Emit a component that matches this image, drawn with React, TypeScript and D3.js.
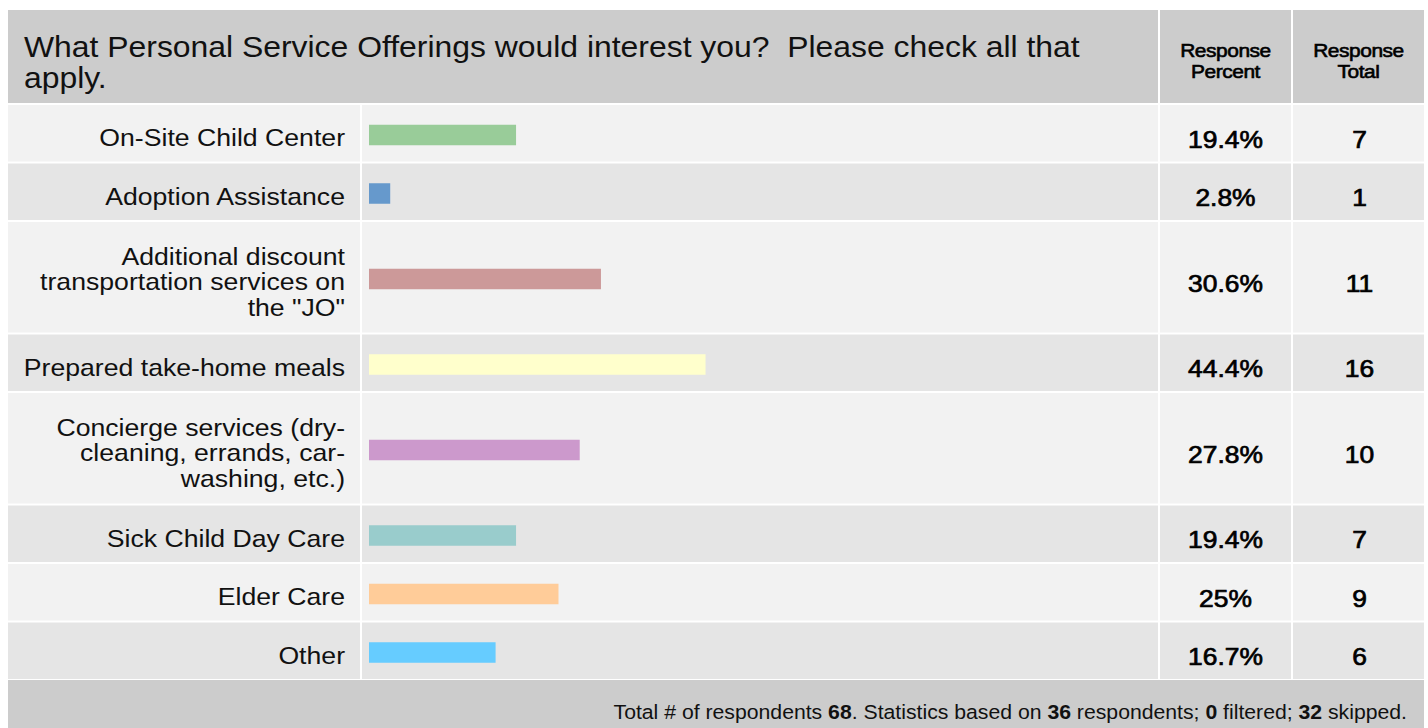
import * as d3 from "d3";
import React from "react";

// survey question + answers
const title = [
  "What Personal Service Offerings would interest you?  Please check all that",
  "apply.",
];
const categories = [
  "On-Site Child Center",
  "Adoption Assistance",
  'Additional discount\ntransportation services on\nthe "JO"',
  "Prepared take-home meals",
  "Concierge services (dry-\ncleaning, errands, car-\nwashing, etc.)",
  "Sick Child Day Care",
  "Elder Care",
  "Other",
];
const percents = [19.4, 2.8, 30.6, 44.4, 27.8, 19.4, 25, 16.7];
const totals = [7, 1, 11, 16, 10, 7, 9, 6];
const percentLabels = ["19.4%", "2.8%", "30.6%", "44.4%", "27.8%", "19.4%", "25%", "16.7%"];
const barColors = ["#99cc99", "#6699cc", "#cc9999", "#ffffcc", "#cc99cc", "#99cccc", "#ffcc99", "#66ccff"];
const footerParts = [
  { t: "Total # of respondents ", b: false },
  { t: "68", b: true },
  { t: ". Statistics based on ", b: false },
  { t: "36", b: true },
  { t: " respondents; ", b: false },
  { t: "0", b: true },
  { t: " filtered; ", b: false },
  { t: "32", b: true },
  { t: " skipped.", b: false },
];

const W = 1428;
const H = 728;
const left = 8;
const right = 1424;
const colLabelEnd = 360;
const colBarEnd = 1158;
const colPctEnd = 1291;
const headerTop = 10;
const headerBottom = 103;
const gap = 2;
const lineH = 27;
const baseRowH = 56.5;
const sx = 1.1; // text is a bit stretched horizontally
const font = "'Liberation Sans', Arial, Helvetica, sans-serif";

export default function App() {
  const x = d3.scaleLinear().domain([0, 100]).range([0, 758]);

  // row layout
  let yCur = headerBottom + gap;
  const rows = categories.map((c, i) => {
    const lines = c.split("\n");
    const h = baseRowH + (lines.length - 1) * lineH;
    const r = { y: yCur, h, lines, i };
    yCur += h + gap;
    return r;
  });
  const footerTop = yCur - 1;

  const pctCx = (colBarEnd + gap + colPctEnd) / 2;
  const totCx = (colPctEnd + gap + right) / 2;

  return (
    <svg
      width={W}
      height={H}
      style={{ position: "absolute", left: 0, top: 0, fontFamily: font }}
    >
      <rect x={0} y={0} width={W} height={H} fill="#ffffff" />

      {/* header */}
      <rect x={left} y={headerTop} width={colBarEnd - left} height={headerBottom - headerTop} fill="#cccccc" />
      <rect x={colBarEnd + gap} y={headerTop} width={colPctEnd - colBarEnd - gap} height={headerBottom - headerTop} fill="#cccccc" />
      <rect x={colPctEnd + gap} y={headerTop} width={right - colPctEnd - gap} height={headerBottom - headerTop} fill="#cccccc" />
      {title.map((t, i) => (
        <text
          key={i}
          transform={`translate(24,${57 + i * 31}) scale(${sx},1)`}
          fontSize={29}
          fill="#111"
          style={{ whiteSpace: "pre" }}
        >
          {t}
        </text>
      ))}
      {[["Response", "Percent", pctCx], ["Response", "Total", totCx]].map((h, i) => (
        <g key={i}>
          {[h[0], h[1]].map((t, j) => (
            <text
              key={j}
              transform={`translate(${h[2]},${57 + j * 21}) scale(${sx},1)`}
              fontSize={19}
              textAnchor="middle"
              fill="#000"
              stroke="#000"
              strokeWidth={0.6}
              letterSpacing={-0.4}
            >
              {t}
            </text>
          ))}
        </g>
      ))}

      {/* rows */}
      {rows.map((r) => {
        const bg = r.i % 2 === 0 ? "#f2f2f2" : "#e5e5e5";
        const cy = r.y + r.h / 2;
        const n = r.lines.length;
        return (
          <g key={r.i}>
            <rect x={left} y={r.y} width={colLabelEnd - left} height={r.h} fill={bg} />
            <rect x={colLabelEnd + gap} y={r.y} width={colBarEnd - colLabelEnd - gap} height={r.h} fill={bg} />
            <rect x={colBarEnd + gap} y={r.y} width={colPctEnd - colBarEnd - gap} height={r.h} fill={bg} />
            <rect x={colPctEnd + gap} y={r.y} width={right - colPctEnd - gap} height={r.h} fill={bg} />
            {r.lines.map((l, j) => (
              <text
                key={j}
                transform={`translate(345,${cy + 13 + (j - (n - 1) / 2) * 25.5}) scale(1.11,1)`}
                fontSize={24}
                textAnchor="end"
                fill="#111"
              >
                {l}
              </text>
            ))}
            <rect
              x={369}
              y={cy - 8.5}
              width={x(percents[r.i])}
              height={20.5}
              fill={barColors[r.i]}
            />
            <text
              transform={`translate(${pctCx},${cy + 14.5}) scale(${sx},1)`}
              fontSize={24}
              textAnchor="middle"
              fill="#000"
              stroke="#000"
              strokeWidth={0.7}
            >
              {percentLabels[r.i]}
            </text>
            <text
              transform={`translate(${totCx + 1},${cy + 14.5}) scale(${sx},1)`}
              fontSize={24}
              textAnchor="middle"
              fill="#000"
              stroke="#000"
              strokeWidth={0.7}
            >
              {totals[r.i]}
            </text>
          </g>
        );
      })}

      {/* footer */}
      <rect x={left} y={footerTop} width={right - left} height={H - footerTop} fill="#cccccc" />
      <text
        transform={`translate(1407,719) scale(${sx},1)`}
        fontSize={19.3}
        textAnchor="end"
        fill="#111"
        style={{ whiteSpace: "pre" }}
      >
        {footerParts.map((p, i) => (
          <tspan key={i} fontWeight={p.b ? "bold" : "normal"}>
            {p.t}
          </tspan>
        ))}
      </text>
    </svg>
  );
}
